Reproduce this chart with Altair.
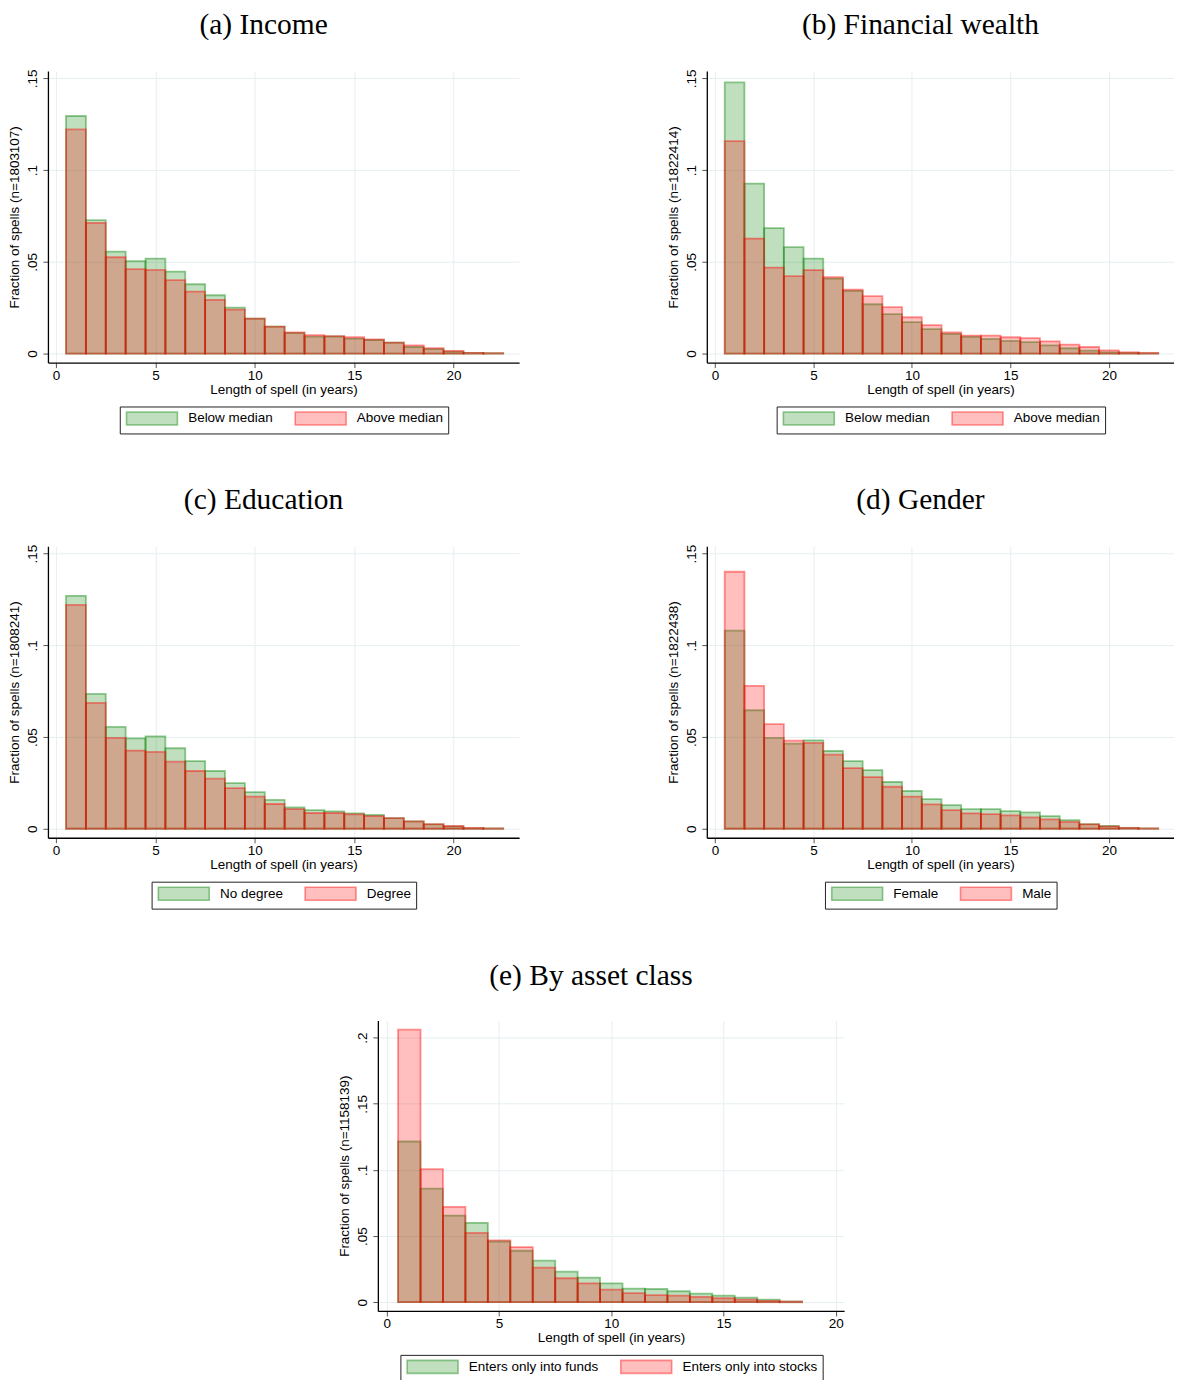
import altair as alt
import pandas as pd

# ---------------- data ----------------
lengths_main = list(range(1, 23))
lengths_asset = list(range(1, 19))

income_below = [0.1295, 0.0727, 0.0556, 0.0504, 0.0518, 0.0447, 0.0378, 0.0318, 0.0251, 0.0191, 0.0147,
                0.0113, 0.0092, 0.0093, 0.0082, 0.0074, 0.0060, 0.0036, 0.0024, 0.0011, 0.0004, 0.0002]
income_above = [0.1222, 0.0713, 0.0525, 0.0460, 0.0456, 0.0400, 0.0338, 0.0293, 0.0240, 0.0191, 0.0147,
                0.0115, 0.0100, 0.0095, 0.0089, 0.0078, 0.0060, 0.0045, 0.0029, 0.0015, 0.0004, 0.0002]

wealth_below = [0.1478, 0.0927, 0.0684, 0.0580, 0.0518, 0.0409, 0.0342, 0.0269, 0.0215, 0.0171, 0.0133,
                0.0107, 0.0091, 0.0080, 0.0069, 0.0062, 0.0045, 0.0029, 0.0016, 0.0007, 0.0004, 0.0002]
wealth_above = [0.1158, 0.0627, 0.0469, 0.0422, 0.0455, 0.0416, 0.0349, 0.0313, 0.0253, 0.0198, 0.0155,
                0.0115, 0.0098, 0.0098, 0.0089, 0.0084, 0.0067, 0.0049, 0.0036, 0.0018, 0.0007, 0.0004]

educ_nodegree = [0.1270, 0.0735, 0.0555, 0.0493, 0.0504, 0.0439, 0.0369, 0.0315, 0.0249, 0.0200, 0.0157,
                 0.0116, 0.0102, 0.0095, 0.0084, 0.0075, 0.0058, 0.0040, 0.0024, 0.0013, 0.0004, 0.0002]
educ_degree = [0.1220, 0.0686, 0.0495, 0.0426, 0.0419, 0.0366, 0.0315, 0.0273, 0.0222, 0.0175, 0.0135,
               0.0107, 0.0086, 0.0086, 0.0078, 0.0069, 0.0058, 0.0040, 0.0025, 0.0015, 0.0005, 0.0002]

gender_female = [0.1080, 0.0646, 0.0495, 0.0464, 0.0482, 0.0424, 0.0369, 0.0320, 0.0255, 0.0206, 0.0162,
                 0.0129, 0.0107, 0.0107, 0.0096, 0.0089, 0.0069, 0.0047, 0.0025, 0.0015, 0.0005, 0.0002]
gender_male = [0.1401, 0.0779, 0.0570, 0.0480, 0.0468, 0.0404, 0.0331, 0.0282, 0.0229, 0.0175, 0.0133,
               0.0102, 0.0084, 0.0080, 0.0073, 0.0062, 0.0051, 0.0038, 0.0024, 0.0013, 0.0005, 0.0002]

asset_funds = [0.1215, 0.0858, 0.0655, 0.0600, 0.0459, 0.0389, 0.0314, 0.0231, 0.0186, 0.0143, 0.0103,
               0.0100, 0.0083, 0.0065, 0.0050, 0.0035, 0.0020, 0.0005]
asset_stocks = [0.2060, 0.1006, 0.0720, 0.0524, 0.0467, 0.0417, 0.0261, 0.0181, 0.0143, 0.0095, 0.0068,
                0.0053, 0.0050, 0.0040, 0.0030, 0.0020, 0.0010, 0.0005]

panel_titles = ["(a) Income", "(b) Financial wealth", "(c) Education", "(d) Gender", "(e) By asset class"]
y_titles = ["Fraction of spells (n=1803107)", "Fraction of spells (n=1822414)",
            "Fraction of spells (n=1808241)", "Fraction of spells (n=1822438)",
            "Fraction of spells (n=1158139)"]
legend_labels = [("Below median", "Above median"), ("Below median", "Above median"),
                 ("No degree", "Degree"), ("Female", "Male"),
                 ("Enters only into funds", "Enters only into stocks")]
x_title = "Length of spell (in years)"
x_ticks = [0, 5, 10, 15, 20]
y_ticks_main = [0, 0.05, 0.1, 0.15]
y_ticks_asset = [0, 0.05, 0.1, 0.15, 0.2]

# ---------------- style ----------------
FILLS = ["rgba(0,128,0,0.25)", "rgba(255,0,0,0.25)"]
STROKES = ["rgba(0,128,0,0.42)", "rgba(255,0,0,0.42)"]
SANS = "Liberation Sans"
SERIF = "Liberation Serif"
FS = 13.5

ARIAL = {'A': .667, 'B': .667, 'D': .722, 'E': .667, 'F': .611, 'M': .833, 'N': .722, ' ': .278,
         'a': .556, 'b': .556, 'c': .5, 'd': .556, 'e': .556, 'f': .278, 'g': .556, 'i': .222,
         'k': .5, 'l': .222, 'm': .833, 'n': .556, 'o': .556, 'r': .333, 's': .5, 't': .278,
         'u': .556, 'v': .5, 'w': .722, 'y': .5}


def text_w(s, size=FS):
    return sum(ARIAL.get(c, .556) for c in s) * size


SW = 51          # swatch width (px)
SH = 13          # swatch height (px)
SYM = 10         # nominal legend symbol size (px)
LO, PAD, COLPAD = 9, 5, 18
_half = SYM / 2
SYM_PATH = "M-1,{:.4f}H{:.4f}V{:.4f}H-1Z".format(-SH / 2 / _half, (SW - _half) / _half, SH / 2 / _half)


def panel(idx, g_vals, r_vals, lengths, xdom, ydom, yticks, width, height):
    labels = legend_labels[idx]
    n = len(lengths)
    df = pd.DataFrame({
        "length": lengths + lengths,
        "frac": g_vals + r_vals,
        "group": [labels[0]] * n + [labels[1]] * n,
    })
    legend_w = 2 * PAD + 2 * (SW + LO) + text_w(labels[0]) + text_w(labels[1]) + COLPAD + 9
    lx = (width - legend_w) / 2
    legend = alt.Legend(
        orient="none", legendX=lx, legendY=height + 44, direction="horizontal", title=None,
        strokeColor="#222", padding=PAD, columnPadding=COLPAD, labelOffset=LO + SW - SYM,
        symbolType=SYM_PATH, symbolSize=SYM * SYM, symbolStrokeWidth=1.6,
        labelFont=SANS, labelFontSize=FS, labelColor="black", labelLimit=300,
    )
    fill = alt.Fill("group:N", scale=alt.Scale(domain=list(labels), range=FILLS), legend=legend)
    stroke = alt.Stroke("group:N", scale=alt.Scale(domain=list(labels), range=STROKES), legend=legend)
    x = alt.X("lo:Q", scale=alt.Scale(domain=xdom, nice=False, zero=False),
              axis=alt.Axis(values=x_ticks, title=x_title, labelPadding=1, titlePadding=0))
    y = alt.Y("frac:Q", stack=None, scale=alt.Scale(domain=ydom, nice=False, zero=False),
              axis=alt.Axis(values=yticks, title=y_titles[idx], labelAngle=270, labelAlign="center",
                            labelBaseline="bottom", labelPadding=3, titlePadding=4,
                            labelExpr="replace(format(datum.value, '~r'), '0.', '.')"))
    base = alt.Chart(df).transform_calculate(lo="datum.length - 0.5", hi="datum.length + 0.5")
    layers = []
    for lab in labels:
        layers.append(
            base.transform_filter(alt.datum.group == lab)
            .mark_bar(strokeWidth=1.8)
            .encode(x=x, x2="hi:Q", y=y, y2=alt.datum(0), fill=fill, stroke=stroke)
        )
    return alt.layer(*layers).properties(
        width=width, height=height,
        title=alt.TitleParams(panel_titles[idx], font=SERIF, fontSize=29.5, fontWeight="normal",
                              anchor="middle", frame="bounds", color="black", offset=29),
    )


XDOM = [-0.41, 23.3]
YDOM = [-0.0049, 0.154]
H = 292

pa = panel(0, income_below, income_above, lengths_main, XDOM, YDOM, y_ticks_main, 472, H)
pb = panel(1, wealth_below, wealth_above, lengths_main, XDOM, YDOM, y_ticks_main, 468, H)
pc = panel(2, educ_nodegree, educ_degree, lengths_main, XDOM, YDOM, y_ticks_main, 472, H)
pd_ = panel(3, gender_female, gender_male, lengths_main, XDOM, YDOM, y_ticks_main, 468, H)
pe = panel(4, asset_funds, asset_stocks, lengths_asset, [-0.4, 20.37], [-0.0066, 0.213],
           y_ticks_asset, 467, 291)

res = dict(x="independent", y="independent", fill="independent", stroke="independent")
leg = dict(fill="independent", stroke="independent")
row1 = alt.hconcat(pa, pb, spacing=148).resolve_scale(**res).resolve_legend(**leg)
row2 = alt.hconcat(pc, pd_, spacing=148).resolve_scale(**res).resolve_legend(**leg)
top = alt.vconcat(row1, row2, spacing=50).resolve_scale(**res).resolve_legend(**leg)

chart = (
    alt.vconcat(top, pe, spacing=51, center=True)
    .resolve_scale(**res)
    .resolve_legend(**leg)
    .properties(padding=0)
    .configure_view(stroke=None)
    .configure_axis(
        domainColor="black", domainWidth=1.3, tickColor="#555", tickSize=5, tickWidth=1,
        gridColor="#e6eff1", gridWidth=1, labelFont=SANS, labelFontSize=FS, labelColor="black",
        titleFont=SANS, titleFontSize=FS, titleFontWeight="normal", titleColor="black",
    )
)

chart.save("out.html", embed_options={"renderer": "svg", "actions": False})
